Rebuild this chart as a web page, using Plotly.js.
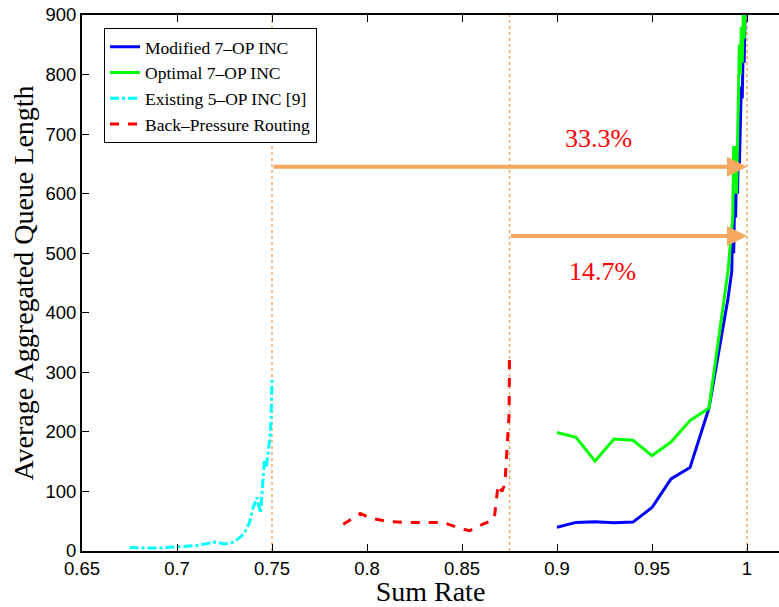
<!DOCTYPE html>
<html>
<head>
<meta charset="utf-8">
<script src="https://cdn.plot.ly/plotly-3.0.1.min.js"></script>
<style>html,body{margin:0;padding:0;background:#fff;overflow:hidden}</style>
</head>
<body>
<div id="chart" style="width:779px;height:607px"></div>
<script>
// Modified 7-OP INC
const modX = [0.90,0.91,0.92,0.93,0.94,0.95,0.96,0.97,0.98,0.99,0.992,0.9925,0.993,0.9935,0.994,0.9945,0.995,0.9955,0.996,0.9965,0.997,0.9975,0.998,0.9985,0.999,1.0];
const modY = [40,48,49,47.5,48.5,73,121,140,240,424,470,560,500,600,560,650,600,680,650,720,780,760,850,820,900,950];
// Optimal 7-OP INC
const optX = [0.90,0.91,0.92,0.93,0.94,0.95,0.96,0.97,0.98,0.99,0.9925,0.993,0.9935,0.994,0.9945,0.995,0.9955,0.996,0.9965,0.997,0.9975,0.998,0.9985,0.999,1.0];
const optY = [199,191,151,188,186,160,183,219,240,470,560,680,640,680,600,700,780,850,800,880,820,900,860,920,950];
// Existing 5-OP INC [9]
const exX = [0.675,0.68,0.685,0.69,0.695,0.70,0.705,0.71,0.715,0.72,0.725,0.73,0.735,0.738,0.74,0.742,0.744,0.745,0.746,0.747,0.748,0.749,0.7495,0.75];
const exY = [6,5,5,5,6,7,7,9,12,15,12,15,28,46,72,90,64,116,153,141,164,192,220,290];
// Back-Pressure Routing
const bpX = [0.7875,0.7965,0.802,0.81,0.82,0.83,0.84,0.849,0.854,0.861,0.866,0.867,0.869,0.871,0.872,0.8728,0.8735,0.8742,0.8748,0.875];
const bpY = [45,63,55,50,48,48,48,38,34,45,52,55,111,100,108,125,165,195,230,335];

const seriesNames = ["Modified 7\u2013OP INC","Optimal 7\u2013OP INC","Existing 5\u2013OP INC [9]","Back\u2013Pressure Routing"];
const xTicks = [0.65,0.7,0.75,0.8,0.85,0.9,0.95,1];
const xTickLabels = ["0.65","0.7","0.75","0.8","0.85","0.9","0.95","1"];
const yTicks = [0,100,200,300,400,500,600,700,800,900];

// reference lines and arrows
const refLinesX = [0.75, 0.875, 1.0];
const arrowStartX = [0.75, 0.875];
const arrowEndX = [1.0, 1.0];
const arrowY = [645, 529];
const labelText = ["33.3%", "14.7%"];
const labelX = [0.9216, 0.9242];
const labelY = [692, 470];

const orange = '#f6a860';

const traces = [
  {x: modX, y: modY, name: seriesNames[0], mode: 'lines', line: {color: '#0000ff', width: 3}},
  {x: optX, y: optY, name: seriesNames[1], mode: 'lines', line: {color: '#00ff00', width: 3}},
  {x: exX, y: exY, name: seriesNames[2], mode: 'lines', line: {color: '#00ffff', width: 3, dash: 'dashdot'}},
  {x: bpX, y: bpY, name: seriesNames[3], mode: 'lines', line: {color: '#ff0000', width: 3, dash: 'dash'}}
];

const shapes = refLinesX.map(v => ({
  type: 'line', xref: 'x', yref: 'paper', x0: v, x1: v, y0: 0, y1: 1,
  line: {color: orange, width: 1.5, dash: 'dot'}, layer: 'below'
}));

const annotations = [];
arrowY.forEach((yv, i) => {
  annotations.push({
    x: arrowEndX[i], y: yv, ax: arrowStartX[i], ay: yv,
    xref: 'x', yref: 'y', axref: 'x', ayref: 'y',
    showarrow: true, arrowhead: 2, arrowsize: 1, arrowwidth: 4,
    arrowcolor: orange, text: ''
  });
  annotations.push({
    x: labelX[i], y: labelY[i], xref: 'x', yref: 'y', showarrow: false,
    text: labelText[i], font: {family: 'Liberation Serif', size: 26, color: '#ff0000'}
  });
});

const layout = {
  width: 779, height: 607,
  margin: {l: 82, r: 0, t: 15, b: 56},
  paper_bgcolor: '#fff', plot_bgcolor: '#fff',
  showlegend: true,
  legend: {
    x: 0.0316, y: 0.976, xanchor: 'left', yanchor: 'top',
    bgcolor: '#fff', bordercolor: '#000', borderwidth: 1,
    font: {family: 'Liberation Serif', size: 17.5, color: '#000'},
    tracegroupgap: 0
  },
  xaxis: {
    range: [0.65, 1.01684], tickvals: xTicks, ticktext: xTickLabels,
    ticks: 'inside', ticklen: 7, tickcolor: '#000', tickwidth: 1,
    showline: true, linecolor: '#000', linewidth: 2, mirror: 'ticks',
    showgrid: false, zeroline: false,
    tickfont: {family: 'Liberation Sans', size: 18.5, color: '#000'},
    title: {text: 'Sum Rate', font: {family: 'Liberation Serif', size: 28, color: '#000'}, standoff: 0},
    automargin: false
  },
  yaxis: {
    range: [0, 900], tickvals: yTicks,
    ticks: 'inside', ticklen: 7, tickcolor: '#000', tickwidth: 1,
    showline: true, linecolor: '#000', linewidth: 2, mirror: false,
    showgrid: false, zeroline: false,
    tickfont: {family: 'Liberation Sans', size: 18.5, color: '#000'},
    title: {text: 'Average Aggregated Queue Length', font: {family: 'Liberation Serif', size: 28, color: '#000'}, standoff: 4},
    automargin: false
  },
  shapes: shapes,
  annotations: annotations
};

Plotly.newPlot('chart', traces, layout, {displayModeBar: false, staticPlot: true});
</script>
</body>
</html>
